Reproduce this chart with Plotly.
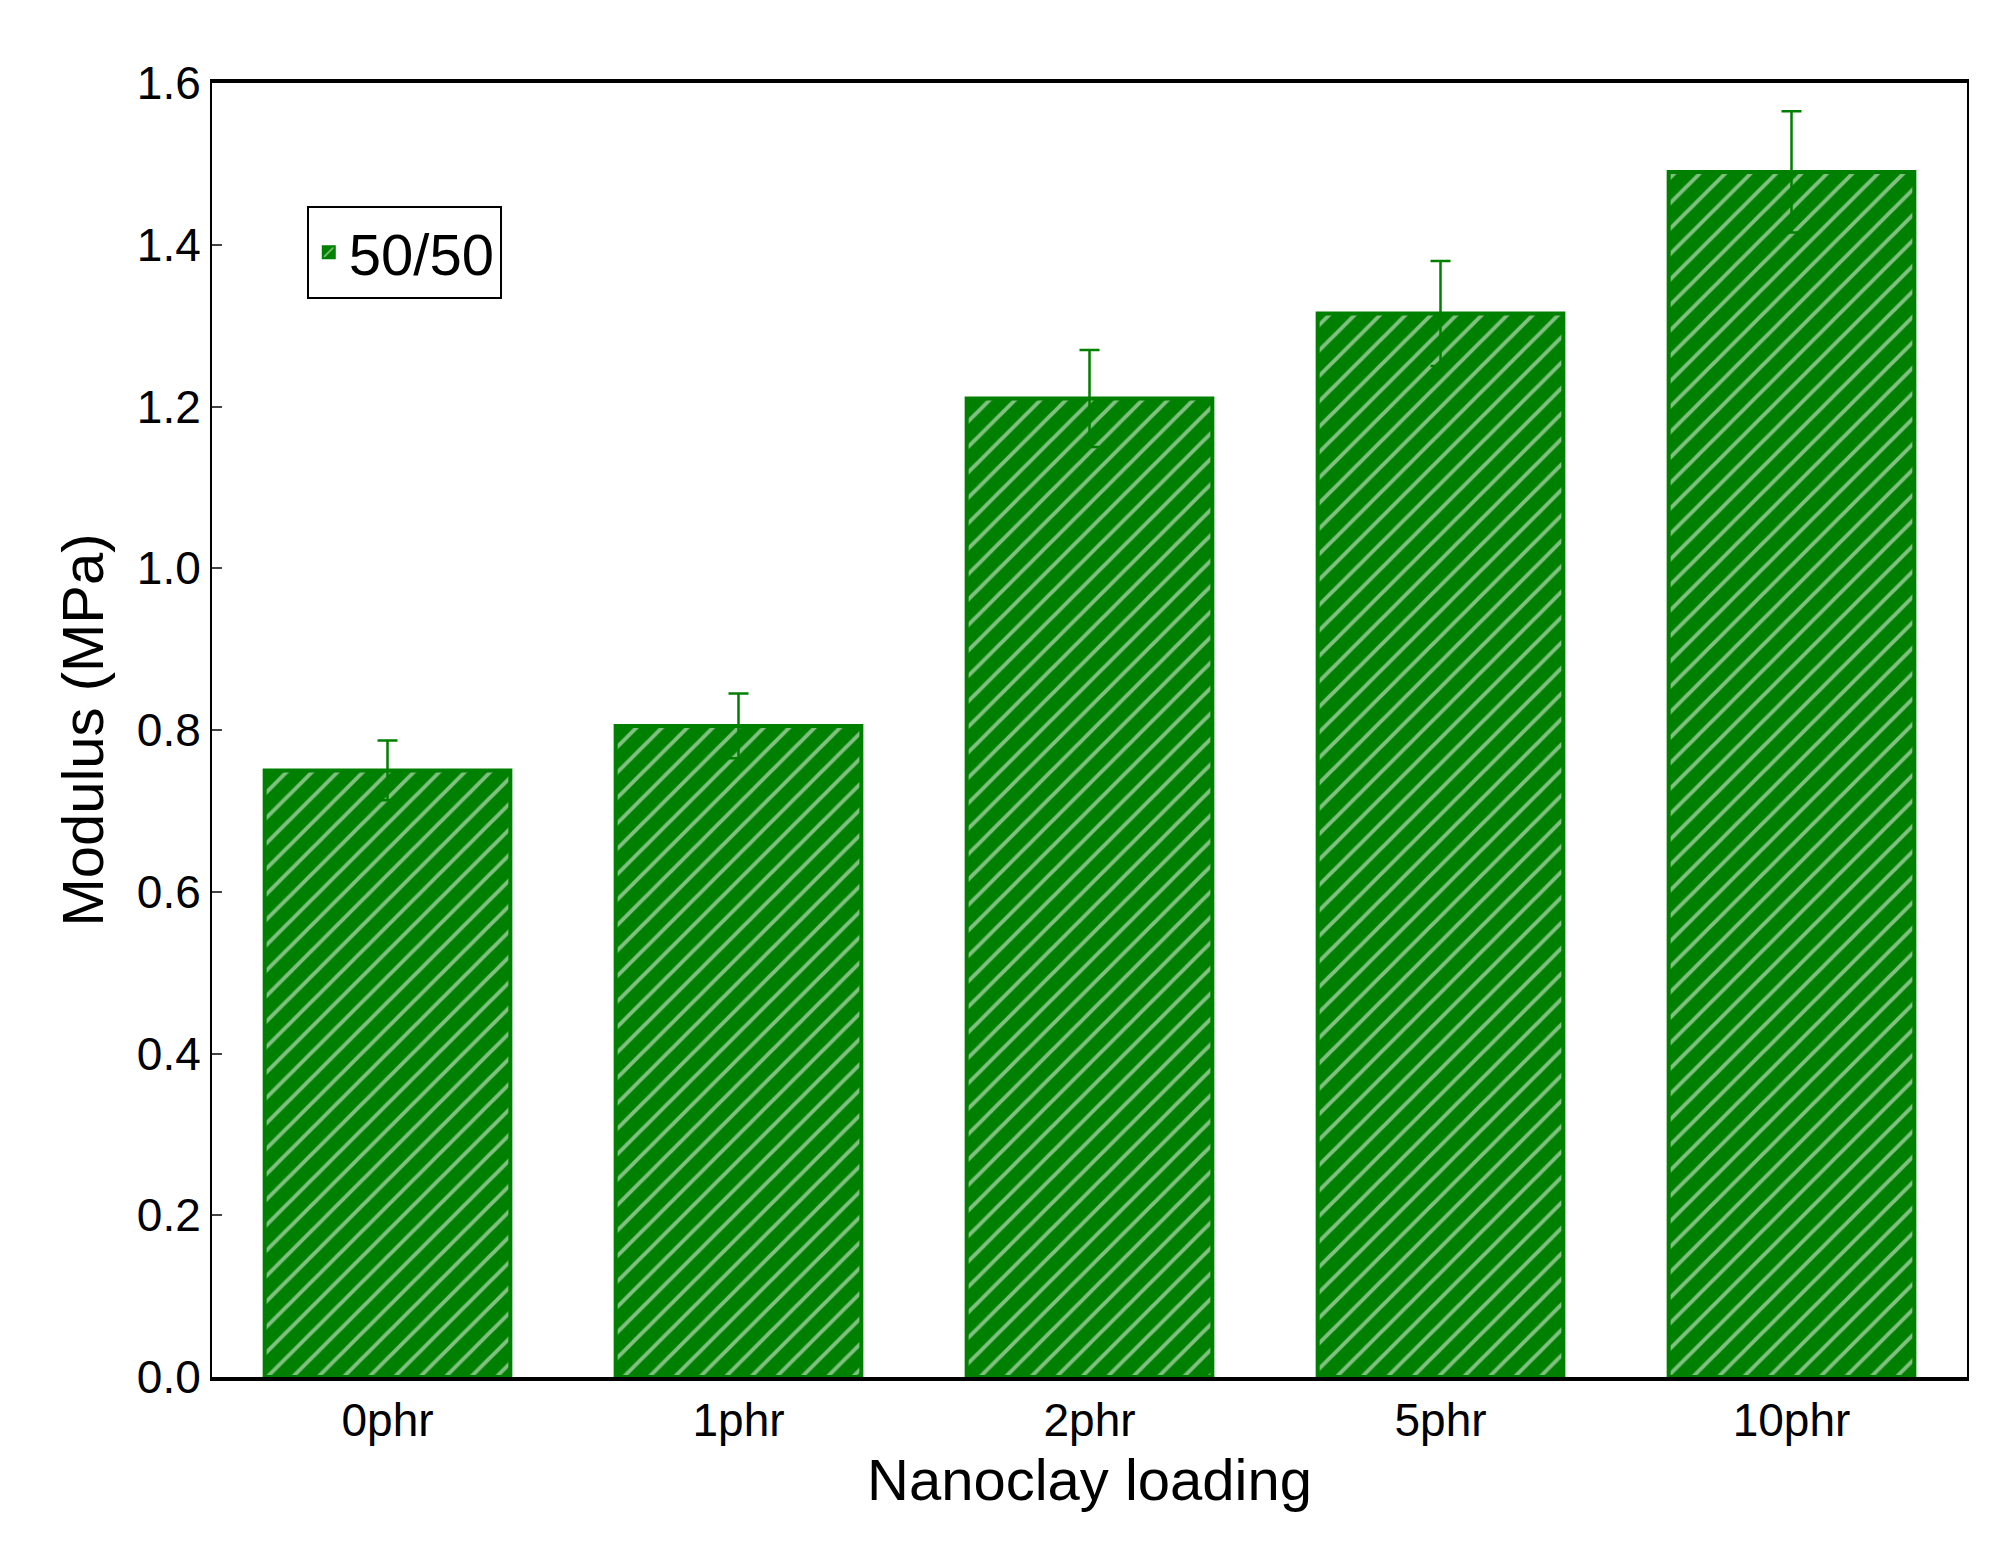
import plotly.graph_objects as go

categories = ["0phr", "1phr", "2phr", "5phr", "10phr"]
modulus = [0.75, 0.805, 1.21, 1.315, 1.49]
errors = [0.037, 0.04, 0.06, 0.065, 0.075]

green = "#008000"

fig = go.Figure()
fig.add_trace(go.Bar(
    x=categories, y=modulus, name="50/50", width=0.7,
    marker=dict(color=green, line=dict(color=green, width=4),
                pattern=dict(shape="/", fgcolor="white", bgcolor=green, size=18, solidity=0.22)),
    error_y=dict(type="data", array=errors, color=green, thickness=2.5, width=10),
))

fig.update_layout(
    width=2009, height=1544,
    paper_bgcolor="white", plot_bgcolor="white",
    font=dict(family="Liberation Sans, Arial", color="black", size=46),
    margin=dict(l=204, r=50, t=75, b=175),
    showlegend=True,
    legend=dict(x=0.054, y=0.905, xanchor="left", yanchor="top",
                bordercolor="black", borderwidth=2, font=dict(size=58),
                bgcolor="white", itemsizing="constant"),
    bargap=0.3,
)
fig.update_xaxes(title=dict(text="Nanoclay loading", font=dict(size=58), standoff=15),
                 showline=True, linecolor="black", linewidth=4, mirror=True,
                 ticks="", tickfont=dict(size=46))
fig.update_yaxes(title=dict(text="Modulus (MPa)", font=dict(size=58), standoff=15),
                 range=[0, 1.6], tickvals=[0, 0.2, 0.4, 0.6, 0.8, 1.0, 1.2, 1.4, 1.6],
                 tickformat=".1f", showline=True, linecolor="black", linewidth=2,
                 mirror=True, ticks="inside", ticklen=10, tickwidth=2,
                 showgrid=False, zeroline=False, tickfont=dict(size=46))

fig.write_html("out.html")
